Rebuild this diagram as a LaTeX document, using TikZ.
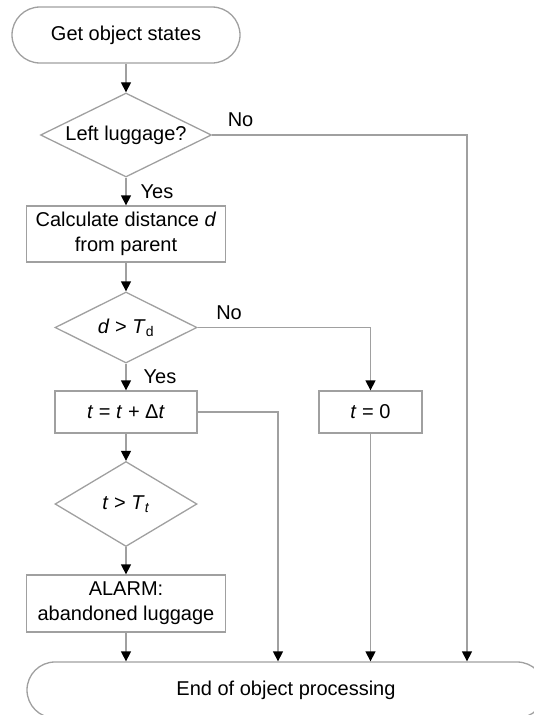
\documentclass[tikz,border=0pt]{standalone}
\usepackage{fontspec}
\setmainfont{Liberation Sans}
\usetikzlibrary{shapes.geometric,arrows.meta}

\definecolor{linegray}{HTML}{A0A0A0}

\tikzset{
  box/.style={draw=linegray, line width=1.3pt, minimum height=42pt, inner sep=0pt, align=center},
  terminal/.style={box, rounded corners=28pt, minimum height=56pt},
  decision/.style={diamond, draw=linegray, line width=1.3pt, inner sep=0pt, align=center},
  flow/.style={draw=linegray, line width=1.3pt, -{Triangle[color=black, length=10pt, width=10pt]}},
  answer/.style={inner sep=0pt}
}

\begin{document}
\begin{tikzpicture}[x=1pt, y=-1pt, font=\fontsize{20}{25}\selectfont]
    \useasboundingbox (0,0) rectangle (534,715);

    % main column
    \node[terminal, minimum width=228pt] (start) at (126,35) {Get object states};
    \node[decision, aspect=2.04, minimum width=171pt, minimum height=84pt] (left) at (126,135) {Left luggage?};
    \node[box, minimum width=199pt, minimum height=56pt] (dist) at (126,234) {Calculate distance \textit{d}\\from parent};
    \node[decision, aspect=2, minimum width=142pt, minimum height=71pt] (near) at (126,327.5) {\textit{d} > \textit{T}\textsubscript{d}};
    \node[box, minimum width=142pt] (count) at (126,412) {\textit{t} = \textit{t} + Δ\textit{t}};
    \node[decision, aspect=1.67, minimum width=142pt, minimum height=85pt] (long) at (126,504) {\textit{t} > \textit{T}\textsubscript{\textit{t}}};
    \node[box, minimum width=199pt, minimum height=57pt] (alarm) at (126,603.5) {ALARM:\\abandoned luggage};

    % side branch and end
    \node[box, minimum width=103pt] (reset) at (370.5,412) {\textit{t} = 0};
    \node[terminal, minimum width=518pt] (stop) at (286,690) {End of object processing};

    \coordinate (midrail) at (278,0);
    \coordinate (rightrail) at (467,0);

    % connectors
    \draw[flow] (start) -- (left);
    \draw[flow] (left) -- node[answer, right=14pt] {Yes} (dist);
    \draw[flow] (left.east) node[answer, anchor=south west, xshift=15pt, yshift=8pt] {No}
        -| (rightrail |- stop.north);
    \draw[flow] (dist) -- (near);
    \draw[flow] (near) -- node[answer, right=17pt] {Yes} (count);
    \draw[flow] (near.east) node[answer, anchor=south west, xshift=18pt, yshift=7pt] {No}
        -| (reset.north);
    \draw[flow] (count) -- (long);
    \draw[flow] (count.east) -| (midrail |- stop.north);
    \draw[flow] (long) -- (alarm);
    \draw[flow] (alarm.south) -- (alarm.south |- stop.north);
    \draw[flow] (reset.south) -- (reset.south |- stop.north);
\end{tikzpicture}
\end{document}
